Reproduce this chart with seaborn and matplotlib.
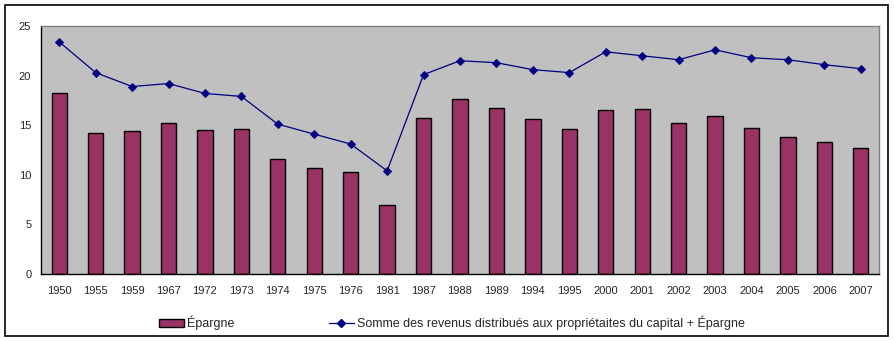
import matplotlib
matplotlib.use("Agg")
import matplotlib.pyplot as plt
from matplotlib.patches import Rectangle, Patch
from matplotlib.lines import Line2D
import seaborn as sns
import pandas as pd

years = ["1950", "1955", "1959", "1967", "1972", "1973", "1974", "1975", "1976", "1981",
         "1987", "1988", "1989", "1994", "1995", "2000", "2001", "2002", "2003", "2004",
         "2005", "2006", "2007"]
epargne = [18.2, 14.2, 14.4, 15.2, 14.5, 14.6, 11.6, 10.7, 10.3, 7.0,
           15.7, 17.6, 16.7, 15.6, 14.6, 16.5, 16.6, 15.2, 15.9, 14.7,
           13.8, 13.3, 12.7]
somme = [23.4, 20.3, 18.9, 19.2, 18.2, 17.9, 15.1, 14.1, 13.1, 10.4,
         20.1, 21.5, 21.3, 20.6, 20.3, 22.4, 22.0, 21.6, 22.6, 21.8,
         21.6, 21.1, 20.7]
y_ticks = [0, 5, 10, 15, 20, 25]

bar_label = "Épargne"
line_label = "Somme des revenus distribués aux propriétaites du capital + Épargne"

bar_color = "#993366"
line_color = "#000080"

sns.set_style("white")
plt.rcParams["font.family"] = ["Liberation Sans", "DejaVu Sans"]
plt.rcParams["font.size"] = 8

df = pd.DataFrame({"annee": years, "epargne": epargne, "somme": somme})

fig = plt.figure(figsize=(8.94, 3.41), dpi=100)
ax = fig.add_axes([41 / 894, 1 - 274 / 341, (879 - 41) / 894, (274 - 26) / 341])
ax.set_facecolor("#C0C0C0")

sns.barplot(data=df, x="annee", y="epargne", order=years, color=bar_color,
            saturation=1, width=0.42, edgecolor="black", linewidth=1, ax=ax)
sns.pointplot(data=df, x="annee", y="somme", order=years, color=line_color,
              markers="D", markersize=4, linewidth=0.9, ax=ax)

ax.set_xlim(-0.5, len(years) - 0.5)
ax.set_ylim(0, 25)
ax.set_yticks(y_ticks)
ax.set_xlabel("")
ax.set_ylabel("")

# category labels centered, tick marks on the boundaries between categories
ax.set_xticks(range(len(years)))
ax.set_xticklabels(years)
ax.set_xticks([i - 0.5 for i in range(len(years) + 1)], minor=True)
ax.tick_params(axis="x", which="major", length=0, pad=9, labelsize=8)
ax.tick_params(axis="x", which="minor", length=4, width=1, direction="out", color="black")
ax.tick_params(axis="y", which="major", length=4, width=1, direction="out",
               color="black", labelsize=8, pad=3)

for side in ("left", "bottom"):
    ax.spines[side].set_color("black")
    ax.spines[side].set_linewidth(1)
for side in ("top", "right"):
    ax.spines[side].set_visible(True)
    ax.spines[side].set_color("#808080")
    ax.spines[side].set_linewidth(1)

handles = [
    Patch(facecolor=bar_color, edgecolor="black", linewidth=1),
    Line2D([0], [0], color=line_color, marker="D", markersize=4, linewidth=0.9),
]
fig.legend(handles, [bar_label, line_label], loc="center", ncol=2,
           bbox_to_anchor=(452 / 894, 1 - 323 / 341), frameon=False,
           fontsize=9, columnspacing=7.5, handlelength=2.0, handletextpad=0.25)

fig.patches.append(Rectangle((5 / 894, 1 - 336 / 341), 883 / 894, 331 / 341,
                             transform=fig.transFigure, fill=False,
                             edgecolor="black", linewidth=1.2))

fig.savefig("out.png", dpi=100)
